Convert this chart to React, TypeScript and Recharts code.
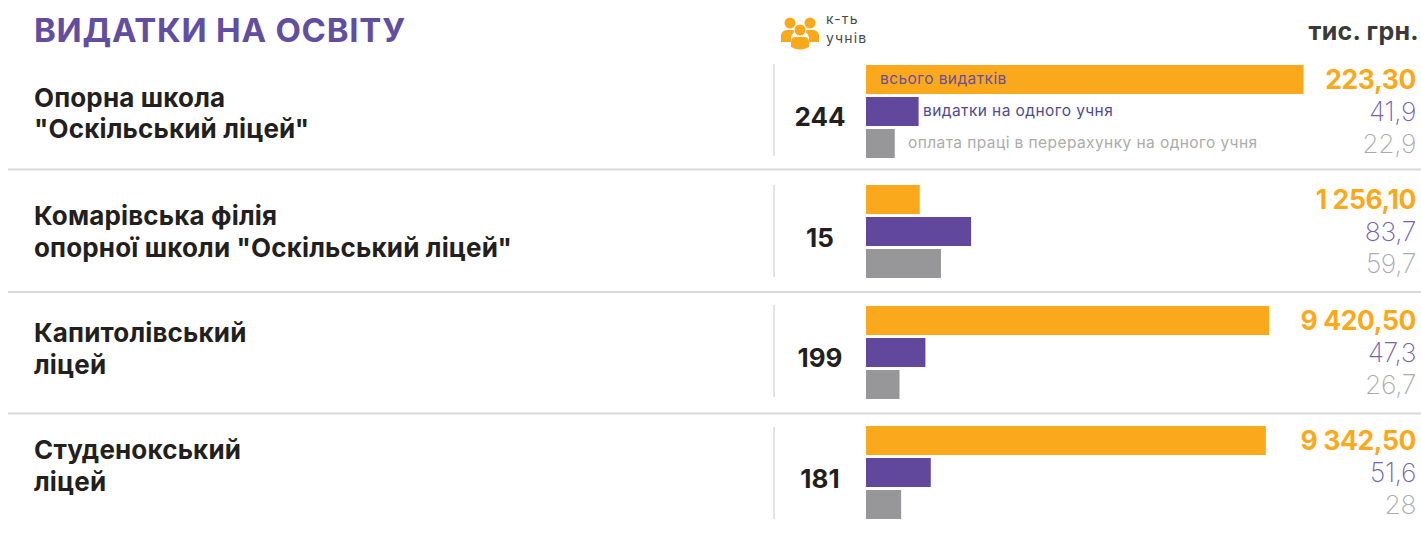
import { BarChart, Bar, XAxis, YAxis, Cell, LabelList } from "recharts";

const FONT = "Inter, 'Noto Sans', sans-serif";
const ORANGE = "#FBA91C";
const PURPLE = "#62489D";
const GREY = "#97979A";

const schools = [
  ['Опорна школа', '"Оскільський ліцей"'],
  ['Комарівська філія', 'опорної школи "Оскільський ліцей"'],
  ['Капитолівський', 'ліцей'],
  ['Студенокський', 'ліцей'],
];
const pupils = [244, 15, 199, 181];
// first bar is drawn much longer than its printed label (223,30) in the source picture
const totalBars = [10223.3, 1256.1, 9420.5, 9342.5];
const totalLabels = ["223,30", "1 256,10", "9 420,50", "9 342,50"];
const perPupil = [41.9, 83.7, 47.3, 51.6];
const perPupilLabels = ["41,9", "83,7", "47,3", "51,6"];
const salary = [22.9, 59.7, 26.7, 28];
const salaryLabels = ["22,9", "59,7", "26,7", "28"];
const seriesNames = ["всього видатків", "видатки на одного учня", "оплата праці в перерахунку на одного учня"];

const rowTops = [62.5, 182.5, 303.5, 423.5];
const ruleTops = [64, 185, 305, 427];
const nameBaselines = [[107, 138], [225, 257], [342, 374], [459, 491]];
const countBaselines = [126, 247, 367, 488];
const dividers = [169.5, 292, 413.5];

const CHART_W = 555;
const CHART_H = 96;
const valueColors = [ORANGE, "#7862AE", "#ABABAD"];
const captionStyles = [
  { x: 14, fill: "#6B4E9E" },
  { x: 57, fill: "#50498F" },
  { x: 42, fill: "#ABABAD" },
];

function ValueLabel(props: any) {
  const { y, height, value, index, start } = props;
  if (!value) return null;
  const slot = index + start;
  const [text, caption] = String(value).split("|");
  const st = captionStyles[slot];
  return (
    <g>
      <text
        x={CHART_W - 5}
        y={y + height / 2 + 9}
        textAnchor="end"
        fontFamily={FONT}
        fontSize={26.5}
        fontWeight={slot === 0 ? 700 : 200}
        letterSpacing={-0.4}
        fill={valueColors[slot]}
      >
        {text}
      </text>
      {caption ? (
        <text x={st.x} y={y + height / 2 + 4} fontFamily={FONT} fontSize={15.5} letterSpacing={0.42} fill={st.fill}>
          {caption}
        </text>
      ) : null}
    </g>
  );
}

function Row({ i }: { i: number }) {
  const cap = (k: number) => (i === 0 ? "|" + seriesNames[k] : "");
  const totalData = [
    { name: "total", value: totalBars[i], label: totalLabels[i] + cap(0) },
    { name: "per", value: null, label: "" },
    { name: "salary", value: null, label: "" },
  ];
  const perData = [
    { name: "total", value: null, label: "" },
    { name: "per", value: perPupil[i], label: perPupilLabels[i] + cap(1) },
    { name: "salary", value: salary[i], label: salaryLabels[i] + cap(2) },
  ];
  return (
    <div style={{ position: "absolute", left: 866, top: rowTops[i] }}>
      <BarChart
        width={CHART_W}
        height={CHART_H}
        data={totalData}
        layout="vertical"
        margin={{ top: 0, right: 0, bottom: 0, left: 0 }}
        barCategoryGap={0}
      >
        <XAxis type="number" domain={[0, 12967]} hide />
        <YAxis type="category" dataKey="name" hide />
        <Bar dataKey="value" barSize={29} fill={ORANGE} isAnimationActive={false}>
          <LabelList dataKey="label" content={(p: any) => <ValueLabel {...p} start={0} />} />
        </Bar>
      </BarChart>
      <div style={{ position: "absolute", left: 0, top: 0 }}>
        <BarChart
          width={CHART_W}
          height={CHART_H}
          data={perData}
          layout="vertical"
          margin={{ top: 0, right: 0, bottom: 0, left: 0 }}
          barCategoryGap={0}
        >
          <XAxis type="number" domain={[0, 442]} hide />
          <YAxis type="category" dataKey="name" hide />
          <Bar dataKey="value" barSize={29} fill={PURPLE} isAnimationActive={false}>
            {perData.map((d) => (
              <Cell key={d.name} fill={d.name === "salary" ? GREY : PURPLE} />
            ))}
            <LabelList dataKey="label" content={(p: any) => <ValueLabel {...p} start={1} />} />
          </Bar>
        </BarChart>
      </div>
    </div>
  );
}

function PeopleIcon() {
  return (
    <svg width={38} height={33} viewBox="0 0 38 33" style={{ position: "absolute", left: 781, top: 17 }}>
      <g fill={ORANGE}>
        <circle cx={9} cy={6} r={5.5} />
        <circle cx={29} cy={6} r={5.5} />
        <path d="M0 25 V18 Q1 13 7 13 H12 Q14 13 14 14 Q11 17 10 20 V25 Z" />
        <path d="M38 25 V18 Q37 13 31 13 H26 Q24 13 24 14 Q27 17 28 20 V25 Z" />
        <circle cx={19} cy={13} r={6} stroke="#fff" strokeWidth={1} />
        <path d="M10 30 V25 Q10 20 15 20 H23 Q28 20 28 25 V30 Q19 35 10 30 Z" />
      </g>
    </svg>
  );
}

export default function App() {
  return (
    <div style={{ position: "absolute", left: 0, top: 0, width: 1421, height: 549, background: "#fff", overflow: "hidden" }}>
      <svg width={1421} height={549} style={{ position: "absolute", left: 0, top: 0 }} fontFamily={FONT}>
        <text x={34} y={42} fontSize={33} fontWeight={700} letterSpacing={0.75} fill="#624EA1">ВИДАТКИ НА ОСВІТУ</text>
        <text x={826} y={24} fontSize={14} letterSpacing={1.2} fill="#4a4a4a">к-ть</text>
        <text x={826} y={43} fontSize={14} letterSpacing={1.2} fill="#4a4a4a">учнів</text>
        <text x={1419} y={40} textAnchor="end" fontSize={25} fontWeight={700} letterSpacing={0.3} fill="#3A3A3A">тис. грн.</text>
        {dividers.map((y) => (
          <line key={y} x1={8} x2={1421} y1={y} y2={y} stroke="#D9D9D9" strokeWidth={2} />
        ))}
        {schools.map((lines, i) => (
          <g key={i}>
            <text x={34} y={nameBaselines[i][0]} fontSize={26} fontWeight={700} letterSpacing={0.15} fill="#231F20">{lines[0]}</text>
            <text x={34} y={nameBaselines[i][1]} fontSize={26} fontWeight={700} letterSpacing={0.15} fill="#231F20">{lines[1]}</text>
            <line x1={774} x2={774} y1={ruleTops[i]} y2={ruleTops[i] + 92} stroke="#E3E3E3" strokeWidth={2} />
            <text x={820} y={countBaselines[i]} textAnchor="middle" fontSize={26} fontWeight={700} fill="#231F20">{pupils[i]}</text>
          </g>
        ))}
      </svg>
      <PeopleIcon />
      {schools.map((_, i) => (
        <Row key={i} i={i} />
      ))}
    </div>
  );
}
